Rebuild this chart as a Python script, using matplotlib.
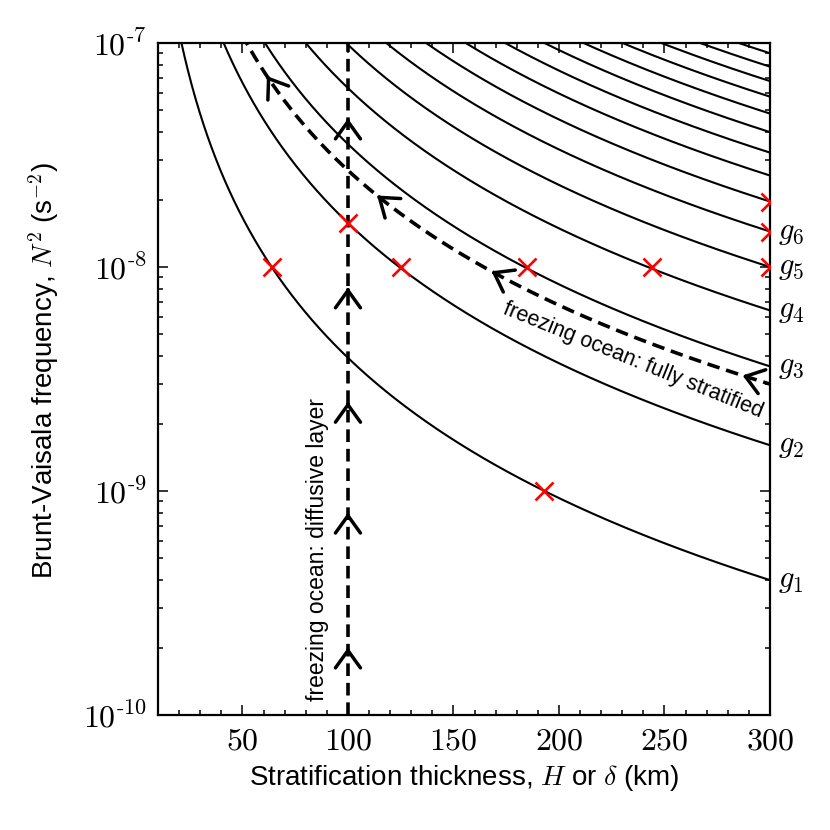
import numpy as np
import matplotlib
matplotlib.use('Agg')
import matplotlib.pyplot as plt
from matplotlib.ticker import FixedLocator, FixedFormatter, LogLocator, NullFormatter, MultipleLocator

plt.rcParams['font.family'] = ['Liberation Sans', 'DejaVu Sans']
plt.rcParams['mathtext.fontset'] = 'cm'

# ---------------- data ----------------
mode_numbers = list(range(1, 16))
# N^2 of each mode curve at H = 300 km
mode_n2_at_300km = [4.0e-10, 1.6e-9, 3.6e-9, 6.4e-9, 1.0e-8, 1.44e-8, 1.96e-8,
                    2.56e-8, 3.24e-8, 4.0e-8, 4.84e-8, 5.76e-8, 6.76e-8,
                    7.84e-8, 9.0e-8]
mode_slope = 2.08            # N^2 ~ H^-slope
labelled_modes = [1, 2, 3, 4, 5, 6]

stratified_n2_at_300km = 3.0e-9
stratified_slope = 2.0
diffusive_H = 100

red_H = [64, 125, 185, 244, 300, 300, 300, 100, 193]
red_N2 = [1e-8, 1e-8, 1e-8, 1e-8, 1e-8, 1.44e-8, 1.96e-8, 1.57e-8, 1e-9]

stratified_arrow_H = [61.6, 113.8, 168, 287]
diffusive_arrow_N2 = [2.0e-10, 8.0e-10, 2.5e-9, 8.1e-9, 4.6e-8]

x_ticks = [50, 100, 150, 200, 250, 300]
x_tick_labels = ['$50$', '$100$', '$150$', '$200$', '$250$', '$300$']
y_ticks = [1e-10, 1e-9, 1e-8, 1e-7]
y_tick_labels = [r'$10^{\text{-}10}$', r'$10^{\text{-}9}$', r'$10^{\text{-}8}$', r'$10^{\text{-}7}$']

x_limits = (10, 300)
y_limits = (1e-10, 1e-7)

# ---------------- figure ----------------
fig = plt.figure(figsize=(8.3, 8.3), dpi=100)
ax = fig.add_axes([0.1904, 0.1386, 0.7373, 0.8096])
ax.set_xscale('linear')
ax.set_yscale('log')
ax.set_xlim(*x_limits)
ax.set_ylim(*y_limits)

H = np.linspace(x_limits[0], x_limits[1], 800)

for n, g300 in zip(mode_numbers, mode_n2_at_300km):
    ax.plot(H, g300 * (300.0 / H) ** mode_slope, color='black', lw=1.5, zorder=2)
    if n in labelled_modes:
        ax.annotate(r'$g_{%d}$' % n, xy=(1, g300), xycoords=('axes fraction', 'data'),
                    xytext=(6, 0), textcoords='offset points', ha='left', va='center',
                    fontsize=22, annotation_clip=False)

def strat(h):
    return stratified_n2_at_300km * (300.0 / np.asarray(h)) ** stratified_slope

dash = (3.5, 1.9)
ax.plot(H, strat(H), color='black', lw=2.6, dashes=dash, zorder=3)
ax.plot([diffusive_H, diffusive_H], list(y_limits), color='black', lw=2.6, dashes=dash, zorder=3)

arrow_props = dict(arrowstyle='->,head_length=1.25,head_width=0.9', lw=2.5, color='black',
                   shrinkA=0, shrinkB=0, mutation_scale=10)
for h in stratified_arrow_H:
    ax.annotate('', xy=(h, float(strat(h))), xytext=(h * 1.01, float(strat(h * 1.01))),
                arrowprops=arrow_props, zorder=4)
for v in diffusive_arrow_N2:
    ax.annotate('', xy=(diffusive_H, v), xytext=(diffusive_H, v * 0.97),
                arrowprops=arrow_props, zorder=4)

ax.plot(red_H, red_N2, linestyle='none', marker='x', color='red', markersize=13,
        markeredgewidth=1.9, zorder=5)

ax.text(234.2, 3.63e-9, 'freezing ocean: fully stratified', rotation=-22,
        rotation_mode='anchor', ha='center', va='baseline', fontsize=15.5)
ax.text(85.4, 5.46e-10, 'freezing ocean: diffusive layer', rotation=90,
        rotation_mode='anchor', ha='center', va='center', fontsize=16.5)

# ---------------- axes styling ----------------
ax.xaxis.set_major_locator(FixedLocator(x_ticks))
ax.xaxis.set_major_formatter(FixedFormatter(x_tick_labels))
ax.xaxis.set_minor_locator(MultipleLocator(10))
ax.yaxis.set_major_locator(FixedLocator(y_ticks))
ax.yaxis.set_major_formatter(FixedFormatter(y_tick_labels))
ax.yaxis.set_minor_locator(LogLocator(base=10, subs=np.arange(2, 10)))
ax.yaxis.set_minor_formatter(NullFormatter())

ax.tick_params(which='both', direction='in', top=True, right=True, width=1.1)
ax.tick_params(which='major', length=7, labelsize=23, pad=8)
ax.tick_params(which='minor', length=3.5)
for s in ax.spines.values():
    s.set_linewidth(1.6)

ax.set_xlabel(r'Stratification thickness, $H$ or $\delta$ (km)', fontsize=20)
ax.set_ylabel(r'Brunt-Vaisala frequency, $N^2$ (s$^{-2}$)', fontsize=20)
ax.xaxis.set_label_coords(0.5, -0.071)
ax.yaxis.set_label_coords(-0.158, 0.513)

fig.savefig('out.png', dpi=100)
